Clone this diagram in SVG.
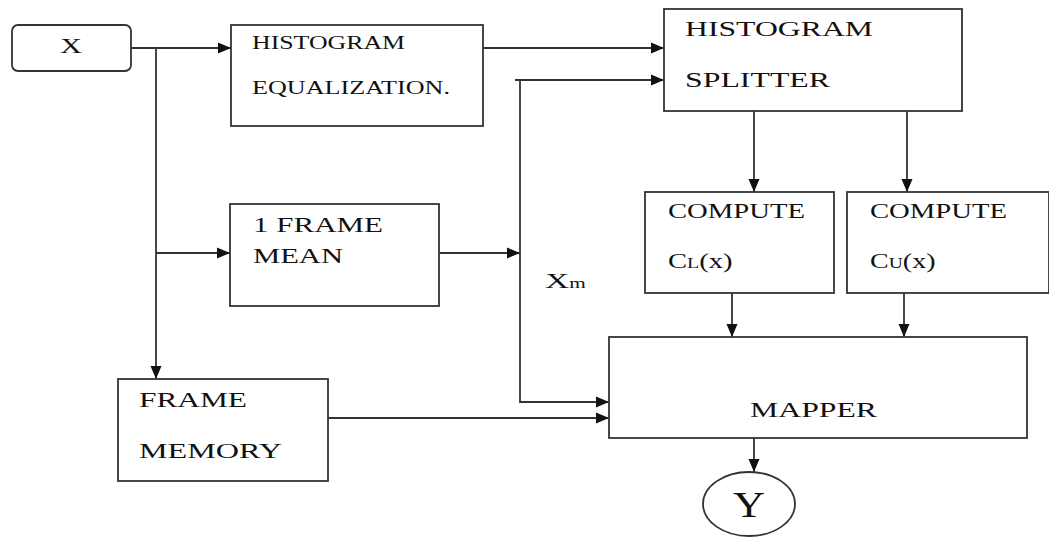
<svg xmlns="http://www.w3.org/2000/svg" width="1049" height="538" viewBox="0 0 1049 538">
<style>
.box{fill:#fff;stroke:#333;stroke-width:1.8}
.t{font-family:"Liberation Serif","Times New Roman",serif;fill:#111}
.c{fill:none;stroke:#333;stroke-width:1.8}
</style>
<defs>
<marker id="ah" markerUnits="userSpaceOnUse" markerWidth="14" markerHeight="12" refX="13" refY="6" orient="auto">
<path d="M0,0.5 L13,6 L0,11.5 Z" fill="#111"/>
</marker>
</defs>
<rect width="1049" height="538" fill="#fff"/>
<g id="connectors">
<path class="c" d="M131,48 H231" marker-end="url(#ah)"/>
<path class="c" d="M156,48 V379" marker-end="url(#ah)"/>
<path class="c" d="M156,253 H230" marker-end="url(#ah)"/>
<path class="c" d="M483,48 H664" marker-end="url(#ah)"/>
<path class="c" d="M439,253 H520" marker-end="url(#ah)"/>
<path class="c" d="M515,80 H664" marker-end="url(#ah)"/>
<path class="c" d="M520,80 V402 H609" marker-end="url(#ah)"/>
<path class="c" d="M328,418 H609" marker-end="url(#ah)"/>
<path class="c" d="M754,111 V192" marker-end="url(#ah)"/>
<path class="c" d="M907,111 V192" marker-end="url(#ah)"/>
<path class="c" d="M732,293 V337" marker-end="url(#ah)"/>
<path class="c" d="M904,293 V337" marker-end="url(#ah)"/>
<path class="c" d="M754,438 V472" marker-end="url(#ah)"/>
</g>
<g id="input-x">
<rect class="box" x="12" y="25" width="119" height="46" rx="6"/>
<text class="t" x="60" y="53" font-size="22" textLength="22" lengthAdjust="spacingAndGlyphs">X</text>
</g>
<g id="hist-eq">
<rect class="box" x="231" y="25" width="252" height="101"/>
<text class="t" x="252" y="49" font-size="18" textLength="153" lengthAdjust="spacingAndGlyphs">HISTOGRAM</text>
<text class="t" x="252" y="94" font-size="18" textLength="198" lengthAdjust="spacingAndGlyphs">EQUALIZATION.</text>
</g>
<g id="splitter">
<rect class="box" x="664" y="9" width="298" height="102"/>
<text class="t" x="685" y="36" font-size="21" textLength="188" lengthAdjust="spacingAndGlyphs">HISTOGRAM</text>
<text class="t" x="685" y="87" font-size="21" textLength="145" lengthAdjust="spacingAndGlyphs">SPLITTER</text>
</g>
<g id="compute-l">
<rect class="box" x="645" y="192" width="189" height="101"/>
<text class="t" x="668" y="218" font-size="20" textLength="137" lengthAdjust="spacingAndGlyphs">COMPUTE</text>
<text class="t" font-size="20" transform="translate(668 268) scale(1.43 1)">C<tspan font-size="14">L</tspan>(x)</text>
</g>
<g id="compute-u">
<rect class="box" x="847" y="192" width="202" height="101"/>
<text class="t" x="870" y="218" font-size="20" textLength="137" lengthAdjust="spacingAndGlyphs">COMPUTE</text>
<text class="t" font-size="20" transform="translate(870 268) scale(1.4 1)">C<tspan font-size="14">U</tspan>(x)</text>
</g>
<g id="frame-mean">
<rect class="box" x="230" y="204" width="209" height="102"/>
<text class="t" x="253" y="232" font-size="21" textLength="130" lengthAdjust="spacingAndGlyphs">1 FRAME</text>
<text class="t" x="253" y="263" font-size="21" textLength="90" lengthAdjust="spacingAndGlyphs">MEAN</text>
</g>
<g id="xm-label">
<text class="t" font-size="22" transform="translate(545 288) scale(1.52 1)">X<tspan font-size="14">m</tspan></text>
</g>
<g id="frame-memory">
<rect class="box" x="118" y="379" width="210" height="102"/>
<text class="t" x="139" y="407" font-size="21" textLength="108" lengthAdjust="spacingAndGlyphs">FRAME</text>
<text class="t" x="139" y="458" font-size="21" textLength="143" lengthAdjust="spacingAndGlyphs">MEMORY</text>
</g>
<g id="mapper">
<rect class="box" x="609" y="337" width="418" height="101"/>
<text class="t" x="750" y="417" font-size="22" textLength="127" lengthAdjust="spacingAndGlyphs">MAPPER</text>
</g>
<g id="output-y">
<ellipse class="box" cx="749" cy="504" rx="46" ry="32"/>
<text class="t" x="733" y="517" font-size="36" textLength="32" lengthAdjust="spacingAndGlyphs">Y</text>
</g>
</svg>
